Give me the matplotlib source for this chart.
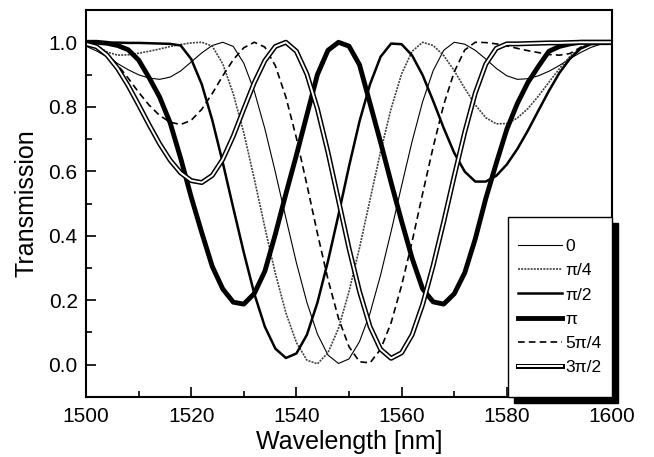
import numpy as np
import matplotlib.pyplot as plt
from matplotlib.patches import Rectangle

plt.rcParams['font.family'] = ['Liberation Sans', 'DejaVu Sans']

# wavelength grid [nm], values every 2 nm
wl = np.arange(1500, 1601, 2)

t_0 = [0.988, 0.973, 0.955, 0.934, 0.915, 0.899, 0.889, 0.885, 0.892, 0.911,
       0.939, 0.967, 0.990, 1.000, 0.987, 0.935, 0.848, 0.732, 0.597, 0.455,
       0.316, 0.193, 0.095, 0.030, 0.004, 0.018, 0.072, 0.160, 0.278, 0.413,
       0.555, 0.693, 0.816, 0.912, 0.975, 1.000, 0.994, 0.975, 0.948, 0.919,
       0.896, 0.885, 0.887, 0.896, 0.910, 0.928, 0.949, 0.968, 0.984, 0.995,
       1.000]
t_pi4 = [1.000, 0.990, 0.970, 0.960, 0.961, 0.966, 0.972, 0.979, 0.987, 0.993,
         0.998, 1.000, 0.988, 0.933, 0.840, 0.719, 0.576, 0.426, 0.283, 0.161,
         0.069, 0.014, 0.003, 0.037, 0.113, 0.227, 0.363, 0.512, 0.661, 0.794,
         0.902, 0.972, 1.000, 0.990, 0.959, 0.912, 0.857, 0.806, 0.766, 0.747,
         0.748, 0.765, 0.794, 0.833, 0.876, 0.918, 0.956, 0.983, 0.998, 1.000,
         1.000]
t_pi2 = [1.000, 1.000, 0.999, 0.999, 0.998, 0.998, 0.997, 0.996, 0.995, 0.990,
         0.948, 0.870, 0.759, 0.627, 0.486, 0.348, 0.220, 0.118, 0.050, 0.021,
         0.035, 0.093, 0.193, 0.321, 0.465, 0.615, 0.755, 0.870, 0.955, 0.996,
         0.994, 0.959, 0.898, 0.818, 0.734, 0.657, 0.599, 0.568, 0.568, 0.586,
         0.621, 0.669, 0.726, 0.788, 0.849, 0.905, 0.949, 0.980, 0.994, 0.995,
         0.995]
t_pi = [1.000, 1.000, 0.997, 0.990, 0.977, 0.945, 0.890, 0.830, 0.750, 0.640,
        0.520, 0.410, 0.305, 0.235, 0.194, 0.188, 0.221, 0.290, 0.405, 0.530,
        0.650, 0.775, 0.900, 0.975, 1.000, 0.988, 0.930, 0.810, 0.690, 0.565,
        0.445, 0.330, 0.235, 0.195, 0.188, 0.220, 0.285, 0.390, 0.515, 0.625,
        0.730, 0.810, 0.875, 0.925, 0.972, 0.987, 0.995, 1.000, 1.000, 1.000,
        1.000]
t_5pi4 = [1.000, 0.989, 0.965, 0.930, 0.889, 0.845, 0.805, 0.773, 0.752, 0.745,
          0.758, 0.792, 0.841, 0.896, 0.946, 0.983, 1.000, 0.985, 0.927, 0.830,
          0.703, 0.558, 0.407, 0.265, 0.144, 0.056, 0.009, 0.006, 0.048, 0.130,
          0.246, 0.382, 0.531, 0.675, 0.806, 0.908, 0.976, 1.000, 0.999, 0.995,
          0.989, 0.981, 0.974, 0.968, 0.962, 0.960, 0.965, 0.984, 0.999, 1.000,
          1.000]
t_3pi2 = [0.995, 0.986, 0.960, 0.919, 0.866, 0.806, 0.744, 0.685, 0.634, 0.595,
          0.571, 0.565, 0.587, 0.637, 0.709, 0.793, 0.875, 0.943, 0.987, 1.000,
          0.972, 0.901, 0.793, 0.659, 0.510, 0.361, 0.227, 0.118, 0.048, 0.020,
          0.037, 0.093, 0.187, 0.308, 0.443, 0.585, 0.721, 0.842, 0.932, 0.981,
          0.995, 0.995, 0.996, 0.997, 0.998, 0.998, 0.999, 1.000, 1.000, 1.000,
          1.000]

labels = ['0', 'π/4', 'π/2', 'π', '5π/4', '3π/2']

fig = plt.figure(figsize=(6.54, 4.57), dpi=100)
ax = fig.add_axes([0.1315, 0.1313, 0.8043, 0.8468])

l0, = ax.plot(wl, t_0, color='k', lw=0.8)
l1, = ax.plot(wl, t_pi4, color='0.25', lw=1.2, ls=(0, (1.2, 0.7)))
l2, = ax.plot(wl, t_pi2, color='k', lw=1.8)
l3, = ax.plot(wl, t_pi, color='k', lw=3.5)
l4, = ax.plot(wl, t_5pi4, color='k', lw=1.2, ls=(0, (4, 2.5)))
l5a, = ax.plot(wl, t_3pi2, color='k', lw=3.6)
l5b, = ax.plot(wl, t_3pi2, color='w', lw=1.4)

ax.set_xlim(1500, 1600)
ax.set_ylim(-0.1, 1.1)
ax.set_xticks(np.arange(1500, 1601, 20))
ax.set_xticks(np.arange(1500, 1601, 10), minor=True)
ax.set_yticks(np.arange(0, 1.01, 0.2))
ax.set_yticks(np.arange(0, 1.01, 0.1), minor=True)
ax.tick_params(which='both', direction='in', width=1.2, labelsize=15)
ax.tick_params(which='major', length=7)
ax.tick_params(which='minor', length=4)
ax.tick_params(axis='x', pad=7)
ax.tick_params(axis='y', pad=6)
for s in ax.spines.values():
    s.set_linewidth(1.5)

ax.set_xlabel('Wavelength [nm]', fontsize=18, labelpad=3)
ax.set_ylabel('Transmission', fontsize=18, labelpad=7)

# legend box with a solid black drop shadow
ax.add_patch(Rectangle((0.802 + 0.0114, -0.0155), 0.198, 0.465, transform=ax.transAxes,
                       fc='k', ec='k', zorder=4, clip_on=False))
ax.add_patch(Rectangle((0.802, 0.0), 0.198, 0.465, transform=ax.transAxes,
                       fc='w', ec='k', lw=1.0, zorder=5, clip_on=False))
leg = ax.legend([l0, l1, l2, l3, l4, (l5a, l5b)], labels, loc='center',
                bbox_to_anchor=(0.901, 0.2325), frameon=False, fontsize=12.5,
                handlelength=2.5, handletextpad=0.2, labelspacing=0.52, borderpad=0)
leg.set_zorder(6)

fig.savefig('out.png', dpi=100)
